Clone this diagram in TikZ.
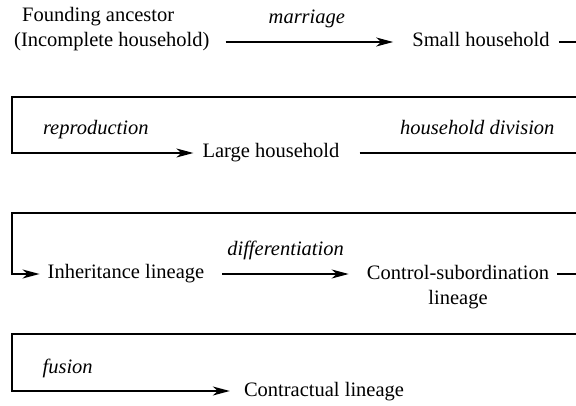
\documentclass[tikz,border=0pt]{standalone}
\usepackage{fontspec}
\setmainfont{Liberation Serif}
\usetikzlibrary{arrows.meta}
\begin{document}
\begin{tikzpicture}[x=1pt,y=-1pt,
  every node/.style={inner sep=0pt, font=\fontsize{20.5}{25}\selectfont},
  stage/.style={text height=14pt, text depth=4pt},
  lbl/.style={font=\fontsize{20.5}{25}\selectfont\itshape, anchor=base, yshift=18pt},
  link/.style={line width=1.6pt, line join=miter},
  flow/.style={link, -{Stealth[length=17pt,width=9pt,inset=5pt]}},
]
\useasboundingbox (0,0) rectangle (576,406);
\clip (0,0) rectangle (576,406);

% stages of the development
\node[align=left, anchor=north west] (fa) at (14,7)
  {\hspace*{8pt}Founding ancestor\\(Incomplete household)};
\node[stage] (sm) at (481,42) {Small household};
\node[stage] (lh) at (271,153) {Large household};
\node[stage] (ih) at (126,274) {Inheritance lineage};
\node[align=center, anchor=north] (cs) at (458,265) {Control-subordination\\lineage};
\node[stage] (cl) at (324,391) {Contractual lineage};

% free ends running off the right margin, and the left return corners
\coordinate (e1) at (590,42);
\coordinate (e2) at (590,97);
\coordinate (w2) at (12,97);
\coordinate (e3) at (590,153);
\coordinate (e4) at (590,213);
\coordinate (w4) at (12,213);
\coordinate (e5) at (590,274);
\coordinate (e6) at (590,334);
\coordinate (w6) at (12,334);

% row 1
\draw[flow, shorten <=16pt, shorten >=19pt] (fa.east |- sm.west) --
  node[lbl, pos=0.48] {marriage} (sm.west);
\draw[link, shorten <=9pt] (sm.east) -- (e1);

% row 2
\draw[flow, shorten >=9pt] (e2) -- (w2) |-
  node[lbl, pos=0.72] {reproduction} (lh.west);
\draw[link, shorten <=20pt] (lh.east) --
  node[lbl, pos=0.55] {household division} (e3);

% row 3
\draw[flow, shorten >=8pt] (e4) -- (w4) |- (ih.west);
\draw[flow, shorten <=18pt, shorten >=18pt] (ih.east) --
  node[lbl, pos=0.5] {differentiation} (ih.east -| cs.west);
\draw[link, shorten <=8pt] (ih.east -| cs.east) -- (e5);

% row 4
\draw[flow, shorten >=14pt] (e6) -- (w6) |-
  node[lbl, pos=0.62] {fusion} (cl.west);
\end{tikzpicture}
\end{document}
